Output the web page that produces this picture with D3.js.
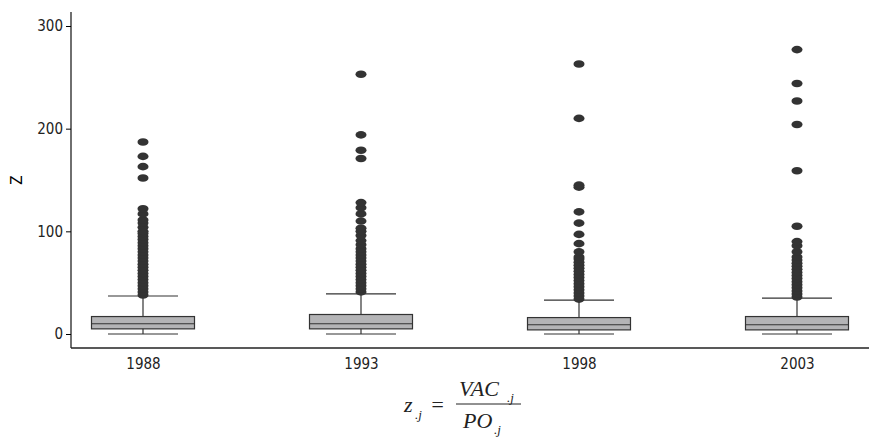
<!DOCTYPE html>
<html><head><meta charset="utf-8">
<script src="https://cdn.jsdelivr.net/npm/d3@7"></script>
<style>
body{margin:0;background:#fff}
text{font-family:"Liberation Sans Narrow","DejaVu Sans Condensed",sans-serif;font-stretch:condensed}
.f{font-family:"Liberation Serif","DejaVu Serif",serif;font-style:italic;font-stretch:normal}
</style></head><body>
<svg id="c" width="869" height="437"></svg>
<script>
const years = ["1988", "1993", "1998", "2003"];
const q1 = [5, 5, 4, 4];
const median = [10, 10, 9, 9];
const q3 = [17, 19, 16, 17];
const whiskLow = [0, 0, 0, 0];
const whiskHigh = [37, 39, 33, 35];
const outliers = [
  [38,41,44,47,50,53,56,59,62,65,68,71,74,77,80,83,86,89,92,95,98,100,104,108,111,117,122,152,163,173,187],
  [41,44,47,50,53,56,59,62,65,68,71,74,77,80,83,87,91,96,100,103,110,117,123,128,171,179,194,253],
  [34,37,40,43,46,49,52,55,58,61,64,67,70,73,75,80,88,97,108,119,143,145,210,263],
  [36,39,42,45,48,51,54,57,60,63,66,69,72,75,80,86,90,105,159,204,227,244,277]
];
const yTicks = [0, 100, 200, 300];

const svg = d3.select("#c");
const x = d3.scalePoint().domain(years).range([143, 797]);
const y = d3.scaleLinear().domain([0, 300]).range([334, 26]);

svg.append("g").attr("transform", "translate(71,0)")
  .call(d3.axisLeft(y).tickValues(yTicks).tickSize(5).tickSizeOuter(0))
  .call(g => g.select(".domain").attr("d", "M0,12V348"))
  .call(g => g.selectAll("text").attr("font-size", 15).attr("fill", "#222"));
svg.append("g").attr("transform", "translate(0,348)")
  .call(d3.axisBottom(x).tickSize(0).tickPadding(10))
  .call(g => g.select(".domain").attr("d", "M71,0H869"))
  .call(g => g.selectAll("text").attr("font-size", 15).attr("fill", "#222"));
svg.selectAll(".domain").attr("stroke", "#222").attr("stroke-width", 1.3);

svg.append("text").attr("transform", "translate(22,180) rotate(-90)")
  .attr("text-anchor", "middle").attr("font-size", 15).text("Z");

const bw = 103, ww = 70;
years.forEach((yr, i) => {
  const g = svg.append("g").attr("stroke", "#333").attr("stroke-width", 1.2);
  const cx = x(yr);
  g.append("line").attr("x1", cx).attr("x2", cx).attr("y1", y(whiskLow[i])).attr("y2", y(whiskHigh[i]));
  g.append("line").attr("x1", cx - ww/2).attr("x2", cx + ww/2).attr("y1", y(whiskLow[i])).attr("y2", y(whiskLow[i]));
  g.append("line").attr("x1", cx - ww/2).attr("x2", cx + ww/2).attr("y1", y(whiskHigh[i])).attr("y2", y(whiskHigh[i]));
  g.append("rect").attr("x", cx - bw/2).attr("width", bw)
    .attr("y", y(q3[i])).attr("height", y(q1[i]) - y(q3[i])).attr("fill", "#b4b4b6");
  g.append("line").attr("x1", cx - bw/2).attr("x2", cx + bw/2).attr("y1", y(median[i])).attr("y2", y(median[i]));
  svg.append("g").selectAll("ellipse").data(outliers[i]).join("ellipse")
    .attr("cx", cx).attr("cy", d => y(d)).attr("rx", 5.5).attr("ry", 3.8).attr("fill", "#333");
});

const f = svg.append("g").attr("fill", "#222");
f.append("text").attr("class", "f").attr("x", 404).attr("y", 412).attr("font-size", 22).text("z");
f.append("text").attr("class", "f").attr("x", 415).attr("y", 419).attr("font-size", 13).text(".j");
f.append("text").attr("class", "f").attr("x", 430).attr("y", 412).attr("font-size", 22).attr("font-style", "normal").text("=");
f.append("line").attr("x1", 456).attr("x2", 521).attr("y1", 404).attr("y2", 404).attr("stroke", "#222").attr("stroke-width", 1);
f.append("text").attr("class", "f").attr("x", 459).attr("y", 396).attr("font-size", 22).text("VAC");
f.append("text").attr("class", "f").attr("x", 507).attr("y", 402).attr("font-size", 13).text(".j");
f.append("text").attr("class", "f").attr("x", 463).attr("y", 428).attr("font-size", 22).text("PO");
f.append("text").attr("class", "f").attr("x", 494).attr("y", 434).attr("font-size", 13).text(".j");
</script></body></html>
